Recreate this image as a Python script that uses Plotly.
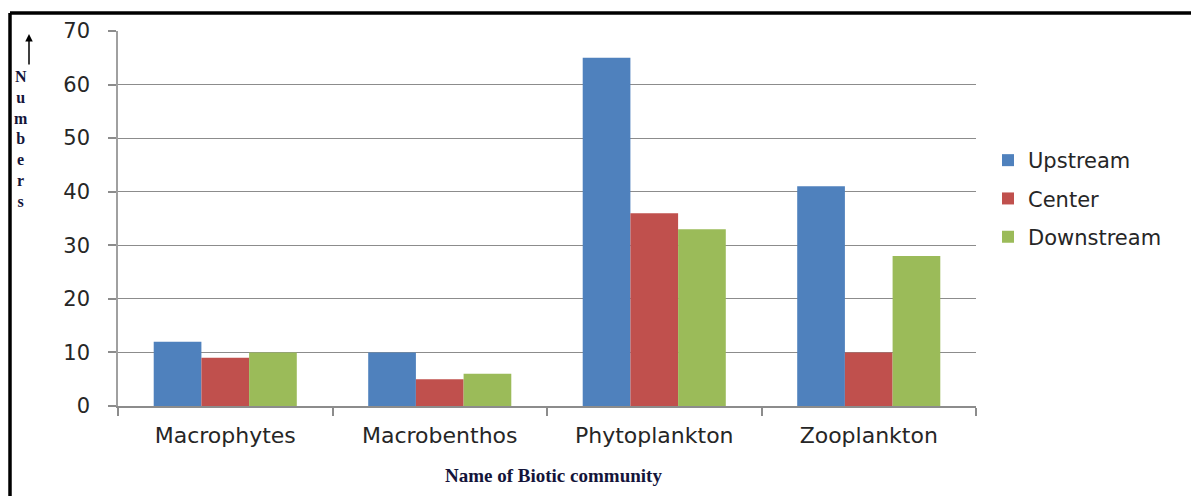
import plotly.graph_objects as go

# Biotic community counts at three sampling stations
communities = ["Macrophytes", "Macrobenthos", "Phytoplankton", "Zooplankton"]
upstream = [12, 10, 65, 41]
center = [9, 5, 36, 10]
downstream = [10, 6, 33, 28]

W, H = 1191, 496
L, R, T, B = 118, 215, 31, 90
pw, ph = W - L - R, H - T - B


def px_x(x):
    return (x - L) / pw


def px_y(y):
    return (H - B - y) / ph


fig = go.Figure()
for name, vals, col in [
    ("Upstream", upstream, "#4F81BD"),
    ("Center", center, "#C0504D"),
    ("Downstream", downstream, "#9BBB59"),
]:
    fig.add_trace(go.Bar(x=communities, y=vals, name=name, legendgroup=name,
                         marker=dict(color=col, line=dict(width=0))))

sans = "DejaVu Sans, Verdana, sans-serif"
x_font = dict(family=sans, size=22, color="#262626")
y_font = dict(family=sans, size=21, color="#262626")

fig.update_layout(
    width=W, height=H,
    margin=dict(l=L, r=R, t=T, b=B),
    paper_bgcolor="white", plot_bgcolor="white",
    barmode="group", bargap=0.333, bargroupgap=0,
    font=y_font,
    xaxis=dict(
        showline=True, linecolor="#8c8c8c", linewidth=1.5,
        ticks="outside", tickson="boundaries", ticklen=8, tickcolor="#8c8c8c",
        tickwidth=1.5, tickfont=x_font, showgrid=False,
        ticklabelstandoff=9,
    ),
    yaxis=dict(
        range=[0, 70], dtick=10,
        showline=True, linecolor="#a0a0a0", linewidth=1.5,
        ticks="outside", ticklen=8, tickcolor="#8c8c8c", tickwidth=1.5,
        showgrid=True, gridcolor="#8c8c8c", gridwidth=1,
        tickfont=y_font, zeroline=False,
        ticklabelstandoff=14,
    ),
    legend=dict(
        x=px_x(988), y=px_y(140), xanchor="left", yanchor="top",
        font=dict(family=sans, size=21, color="#262626"),
        itemsizing="constant", tracegroupgap=8, traceorder="grouped",
    ),
    showlegend=True,
)

# Outer frame: top and left edges
fig.add_shape(type="line", xref="paper", yref="paper",
              x0=px_x(10), x1=px_x(1191), y0=px_y(13), y1=px_y(13),
              line=dict(color="black", width=3.5))
fig.add_shape(type="line", xref="paper", yref="paper",
              x0=px_x(10), x1=px_x(10), y0=px_y(13), y1=px_y(496),
              line=dict(color="black", width=3.5))

# Vertical axis caption: arrow and stacked letters
fig.add_annotation(xref="paper", yref="paper", x=px_x(29), y=px_y(34),
                   ax=0, ay=32, text="", showarrow=True,
                   arrowhead=2, arrowsize=1, arrowwidth=1.5, arrowcolor="black")
fig.add_annotation(xref="paper", yref="paper", x=px_x(21), y=px_y(139),
                   text="<b>" + "<br>".join("Numbers") + "</b>", showarrow=False,
                   xanchor="center", yanchor="middle",
                   font=dict(family="Liberation Serif, Times New Roman, serif",
                             size=16, color="#14143a"))

# Horizontal axis caption
fig.add_annotation(xref="paper", yref="paper", x=px_x(553), y=px_y(475),
                   text="<b>Name of Biotic community</b>", showarrow=False,
                   xanchor="center", yanchor="middle",
                   font=dict(family="Liberation Serif, Times New Roman, serif",
                             size=19, color="#14143a"))

fig.write_html("out.html")
